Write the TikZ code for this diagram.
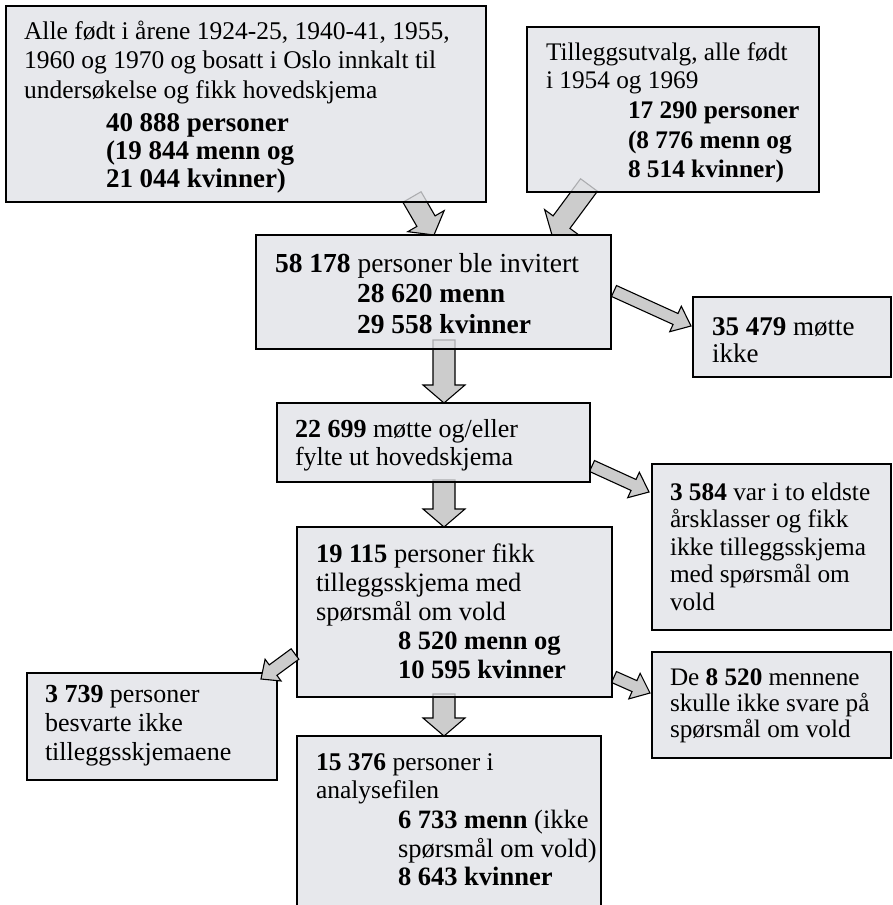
\documentclass[tikz,border=0pt]{standalone}
\usepackage{fontspec}
\setmainfont{Liberation Serif}
\usetikzlibrary{calc}
\definecolor{boxfill}{RGB}{230,231,235}
\definecolor{arrfill}{RGB}{204,204,204}
\tikzset{
  box/.style={draw=black, line width=1.3pt, fill=boxfill, fill opacity=0.75, draw opacity=1, inner sep=0pt, outer sep=0pt, anchor=north west},
  txt/.style={inner sep=0pt, outer sep=0pt, anchor=base west, text=black},
  barrow/.style={draw=black, line width=1.1pt, fill=arrfill, line join=miter},
}
\newcommand\myline[3]{\fontsize{#1}{#2}\selectfont #3\par}
\newcommand\blockarr[5]{%
  \coordinate (bah) at ($(#2)!#5!(#1)$);
  \draw[barrow] ($(#1)!#3!90:(#2)$) -- ($(bah)!#3!90:(#2)$) -- ($(bah)!#4!90:(#2)$) -- (#2)
     -- ($(bah)!#4!-90:(#2)$) -- ($(bah)!#3!-90:(#2)$) -- ($(#1)!#3!-90:(#2)$) -- cycle;}
\begin{document}
\begin{tikzpicture}[x=1pt,y=-1pt]
\useasboundingbox[fill=white] (0,0) rectangle (892,905);
% boxes (positions)
\node[box, minimum width=480pt, minimum height=196pt] (A) at (6,6) {};
\node[box, minimum width=292pt, minimum height=165pt] (B) at (527,27) {};
\node[box, minimum width=355pt, minimum height=114pt] (C) at (256,235) {};
\node[box, minimum width=198pt, minimum height=80pt] (D) at (693,297) {};
\node[box, minimum width=313pt, minimum height=79pt] (E) at (277,403) {};
\node[box, minimum width=239pt, minimum height=166pt] (F) at (652,464) {};
\node[box, minimum width=315pt, minimum height=170pt] (G) at (297,527) {};
\node[box, minimum width=239pt, minimum height=106pt] (H) at (652,652) {};
\node[box, minimum width=250pt, minimum height=107pt] (I) at (27,673) {};
\node[box, minimum width=304pt, minimum height=185pt] (J) at (297,736) {};
% arrow end points
\coordinate (ac1) at ($(A.south east)+(-74,-5)$);
\coordinate (ac2) at ($(C.north west)+(178,0)$);
\coordinate (bc1) at ($(B.south west)+(62,-7)$);
\coordinate (bc2) at ($(C.north east)+(-59,0)$);
\coordinate (cd1) at ($(C.east)+(3,-1)$);
\coordinate (cd2) at ($(D.west)+(-2,-11)$);
\coordinate (ce1) at ($(C.south)+(10.5,-9)$);
\coordinate (ce2) at ($(E.north)+(10.5,0)$);
\coordinate (ef1) at ($(E.east)+(2,23.5)$);
\coordinate (ef2) at ($(F.north west)+(-3,28)$);
\coordinate (eg1) at ($(E.south)+(10.5,-2)$);
\coordinate (eg2) at ($(G.north)+(-10.5,0)$);
\coordinate (gh1) at ($(G.south east)+(2,-20)$);
\coordinate (gh2) at ($(H.west)+(-2,-12)$);
\coordinate (gi1) at ($(G.west)+(-2,42)$);
\coordinate (gi2) at ($(I.north east)+(-16,6)$);
\coordinate (gj1) at ($(G.south)+(-10.5,-3)$);
\coordinate (gj2) at ($(J.north)+(-5,0)$);
% arrows
\blockarr{ac1}{ac2}{10.5pt}{21pt}{16pt}
\blockarr{bc1}{bc2}{10.5pt}{21pt}{16pt}
\blockarr{cd1}{cd2}{6pt}{14pt}{17pt}
\blockarr{ce1}{ce2}{11pt}{21pt}{18pt}
\blockarr{ef1}{ef2}{6pt}{14pt}{17pt}
\blockarr{eg1}{eg2}{11pt}{21pt}{18pt}
\blockarr{gh1}{gh2}{6pt}{14pt}{17pt}
\blockarr{gj1}{gj2}{11pt}{21pt}{18pt}
% redraw boxes on top (semi-transparent fill)
\node[box, minimum width=480pt, minimum height=196pt] (A2) at (A.north west) {};
\node[box, minimum width=292pt, minimum height=165pt] (B2) at (B.north west) {};
\node[box, minimum width=355pt, minimum height=114pt] (C2) at (C.north west) {};
\node[box, minimum width=198pt, minimum height=80pt] (D2) at (D.north west) {};
\node[box, minimum width=313pt, minimum height=79pt] (E2) at (E.north west) {};
\node[box, minimum width=239pt, minimum height=166pt] (F2) at (F.north west) {};
\node[box, minimum width=315pt, minimum height=170pt] (G2) at (G.north west) {};
\node[box, minimum width=239pt, minimum height=106pt] (H2) at (H.north west) {};
\node[box, minimum width=250pt, minimum height=107pt] (I2) at (I.north west) {};
\node[box, minimum width=304pt, minimum height=185pt] (J2) at (J.north west) {};
% arrow drawn over the box corner
\blockarr{gi1}{gi2}{6.5pt}{13.5pt}{15pt}
% texts
\node[txt] (At) at ($(A.north west)+(18,33)$) {\parbox[t]{600pt}{%
\myline{25.5}{29.5}{Alle født i årene 1924-25, 1940-41, 1955,}%
\myline{25.5}{29.5}{1960 og 1970 og bosatt i Oslo innkalt til}%
\myline{25.5}{29.5}{undersøkelse og fikk hovedskjema}%
\myline{27}{33}{\hspace*{82pt}\textbf{40 888 personer}}%
\myline{27}{28}{\hspace*{82pt}\textbf{(19 844 menn og}}%
\myline{27}{28}{\hspace*{82pt}\textbf{21 044 kvinner)}}}};
\node[txt] (Bt) at ($(B.north west)+(19,33)$) {\parbox[t]{600pt}{%
\myline{25.3}{28}{Tilleggsutvalg, alle født}%
\myline{25.3}{28}{i 1954 og 1969}%
\myline{25.3}{30}{\hspace*{82pt}\textbf{17 290 personer}}%
\myline{25.3}{30}{\hspace*{82pt}\textbf{(8 776 menn og}}%
\myline{25.3}{29}{\hspace*{82pt}\textbf{8 514 kvinner)}}}};
\node[txt] (Ct) at ($(C.north west)+(19,37)$) {\parbox[t]{600pt}{%
\myline{27.5}{30}{\textbf{58 178} personer ble invitert}%
\myline{27.5}{30}{\hspace*{82pt}\textbf{28 620 menn}}%
\myline{27.5}{31}{\hspace*{82pt}\textbf{29 558 kvinner}}}};
\node[txt] (Dt) at ($(D.north west)+(19,38)$) {\parbox[t]{600pt}{%
\myline{27}{27}{\textbf{35 479} møtte}%
\myline{27}{27}{ikke}}};
\node[txt] (Et) at ($(E.north west)+(18,34)$) {\parbox[t]{600pt}{%
\myline{26}{28}{\textbf{22 699} møtte og/eller}%
\myline{26}{28}{fylte ut hovedskjema}}};
\node[txt] (Ft) at ($(F.north west)+(18,36)$) {\parbox[t]{600pt}{%
\myline{25.3}{27.5}{\textbf{3 584} var i to eldste}%
\myline{25.3}{27.5}{årsklasser og fikk}%
\myline{25.3}{27.5}{ikke tilleggsskjema}%
\myline{25.3}{27.5}{med spørsmål om}%
\myline{25.3}{27.5}{vold}}};
\node[txt] (Gt) at ($(G.north west)+(19,35)$) {\parbox[t]{600pt}{%
\myline{26.5}{29}{\textbf{19 115} personer fikk}%
\myline{26.5}{29}{tilleggsskjema med}%
\myline{26.5}{29}{spørsmål om vold}%
\myline{26.5}{29}{\hspace*{82pt}\textbf{8 520 menn og}}%
\myline{26.5}{29}{\hspace*{82pt}\textbf{10 595 kvinner}}}};
\node[txt] (Ht) at ($(H.north west)+(18,33)$) {\parbox[t]{600pt}{%
\myline{25.2}{26}{De \textbf{8 520} mennene}%
\myline{25.2}{26}{skulle ikke svare på}%
\myline{25.2}{26}{spørsmål om vold}}};
\node[txt] (It) at ($(I.north west)+(18,29)$) {\parbox[t]{600pt}{%
\myline{26}{29}{\textbf{3 739} personer}%
\myline{26}{29}{besvarte ikke}%
\myline{26}{29}{tilleggsskjemaene}}};
\node[txt] (Jt) at ($(J.north west)+(19,34)$) {\parbox[t]{600pt}{%
\myline{25.5}{28}{\textbf{15 376} personer i}%
\myline{25.5}{28}{analysefilen}%
\myline{26.5}{30}{\hspace*{82pt}\textbf{6 733 menn} (ikke}%
\myline{26.5}{29}{\hspace*{82pt}spørsmål om vold)}%
\myline{26.5}{28}{\hspace*{82pt}\textbf{8 643 kvinner}}}};
\end{tikzpicture}
\end{document}
